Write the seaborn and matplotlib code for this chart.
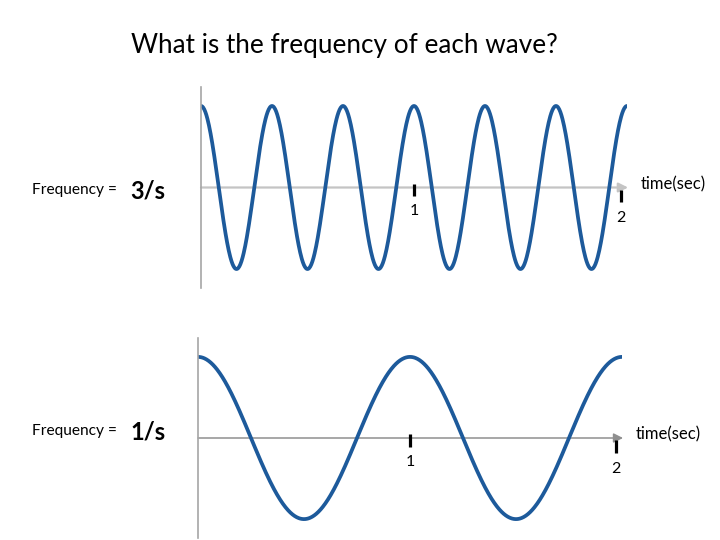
import numpy as np
import pandas as pd
import matplotlib
matplotlib.use("Agg")
import matplotlib.pyplot as plt
import seaborn as sns

# ================= data =================
TITLE = "What is the frequency of each wave?"
freqs = [3, 1]                  # cycles per second, top and bottom wave
freq_labels = ["3/s", "1/s"]
t_end = 2.0                     # seconds shown
tick_pos = [1, 1.97]
tick_labels = ["1", "2"]
x_label = "time(sec)"
# ========================================

sns.set_style("white")
plt.rcParams["font.family"] = ["Lato", "DejaVu Sans"]
plt.rcParams["text.color"] = "black"

WAVE = "#1d5a9b"
W, H = 720, 540

fig = plt.figure(figsize=(7.2, 5.4), dpi=100)
fig.text(344 / W, 1 - 45 / H, TITLE, ha="center", va="center", fontsize=18.8)

# axes boxes in pixels: left, top, width, height
boxes = [(201, 87, 426, 201), (198, 338, 424, 200)]
hline_colors = ["#c4c4c4", "#8f8f8f"]
hline_widths = [1.6, 1.1]
label_y = [190, 431]

for i, f in enumerate(freqs):
    l, top, w, h = boxes[i]
    ax = fig.add_axes([l / W, 1 - (top + h) / H, w / W, h / H])

    t = np.linspace(0, t_end, 800)
    df = pd.DataFrame({"t": t, "y": np.cos(2 * np.pi * f * t)})
    sns.lineplot(data=df, x="t", y="y", ax=ax, color=WAVE, lw=2.7)

    ax.set_xlim(0, t_end)
    ax.set_ylim(-1.233, 1.233)
    ax.set_xticks([])
    ax.set_yticks([])
    ax.set_xlabel("")
    ax.set_ylabel("")
    for s in ["top", "right", "bottom"]:
        ax.spines[s].set_visible(False)
    ax.spines["left"].set_color("#a6a6a6")
    ax.spines["left"].set_linewidth(1.2)

    # time axis with arrow
    ax.annotate("", xy=(t_end + 0.005, 0), xytext=(0, 0),
                arrowprops=dict(arrowstyle="-|>", color=hline_colors[i],
                                lw=hline_widths[i], mutation_scale=14,
                                shrinkA=0, shrinkB=0),
                annotation_clip=False, zorder=1)

    # hand drawn tick marks
    offs = [-0.03, -0.105]
    loffs = [-0.29, -0.38]
    for k, (tp, tl) in enumerate(zip(tick_pos, tick_labels)):
        ax.plot([tp, tp], [offs[k] - 0.075, offs[k] + 0.075], color="black",
                lw=2.3, solid_capstyle="butt", clip_on=False, zorder=3)
        ax.text(tp, loffs[k], tl, ha="center", va="center", fontsize=11.5,
                clip_on=False)

    ax.text(2.065, 0.04, x_label, ha="left", va="center", fontsize=12,
            clip_on=False)

    fig.text(32 / W, 1 - label_y[i] / H, "Frequency =", ha="left",
             va="center", fontsize=11.2)
    fig.text(130 / W, 1 - (label_y[i] + 1) / H, freq_labels[i], ha="left",
             va="center", fontsize=17, fontweight="bold")

fig.savefig("out.png", dpi=100)
